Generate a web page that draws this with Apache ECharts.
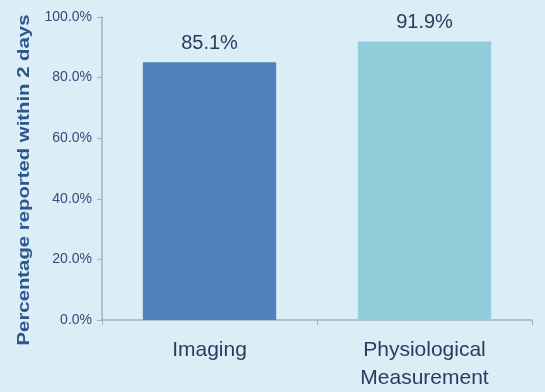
<!DOCTYPE html>
<html><head><meta charset="utf-8">
<script src="https://cdn.jsdelivr.net/npm/echarts@6/dist/echarts.min.js"></script>
<style>html,body{margin:0;padding:0;background:#dbedf5;}#c{width:545px;height:392px;}</style>
</head><body><div id="c"></div>
<script>
const categories = ['Imaging', 'Physiological\nMeasurement'];
const values = [85.1, 91.9];
const barColors = ['#4f81bd', '#92cddc'];
const yTicks = [0, 20, 40, 60, 80, 100];
const yTitle = 'Percentage reported within 2 days';

const chart = echarts.init(document.getElementById('c'));
chart.setOption({
  backgroundColor: '#dbedf5',
  animation: false,
  grid: {left: 102, right: 13, top: 17, bottom: 72},
  graphic: [{
    type: 'text', x: 25, y: 180, rotation: Math.PI / 2, scaleX: 1.27,
    style: {text: yTitle, fill: '#2e5590', font: 'bold 16px "Liberation Sans", Arial',
      textAlign: 'center', textVerticalAlign: 'middle'}
  }],
  xAxis: {
    type: 'category', data: categories,
    axisLine: {lineStyle: {color: '#9fb3c6', width: 1.5}},
    axisTick: {show: true, alignWithLabel: false, length: 5, lineStyle: {color: '#9fb3c6'}},
    axisLabel: {color: '#243f60', fontSize: 21, fontFamily: '"Liberation Sans", Arial', lineHeight: 28, margin: 16}
  },
  yAxis: {
    type: 'value', min: 0, max: 100, interval: 20,
    axisLine: {show: true, lineStyle: {color: '#9fb3c6', width: 1.5}},
    axisTick: {show: true, length: 5, lineStyle: {color: '#9fb3c6'}},
    splitLine: {show: false},
    axisLabel: {color: '#2e4d7a', fontSize: 14, fontFamily: '"Liberation Sans", Arial', margin: 10,
      formatter: v => yTicks.includes(v) ? v.toFixed(1) + '%' : ''}
  },
  series: [{
    type: 'bar', barWidth: '62%',
    data: values.map((v, i) => ({value: v, itemStyle: {color: barColors[i]}})),
    label: {show: true, position: 'top', distance: 9, color: '#243f60', fontSize: 20,
      fontFamily: '"Liberation Sans", Arial', formatter: p => p.value.toFixed(1) + '%'}
  }]
});
</script></body></html>
